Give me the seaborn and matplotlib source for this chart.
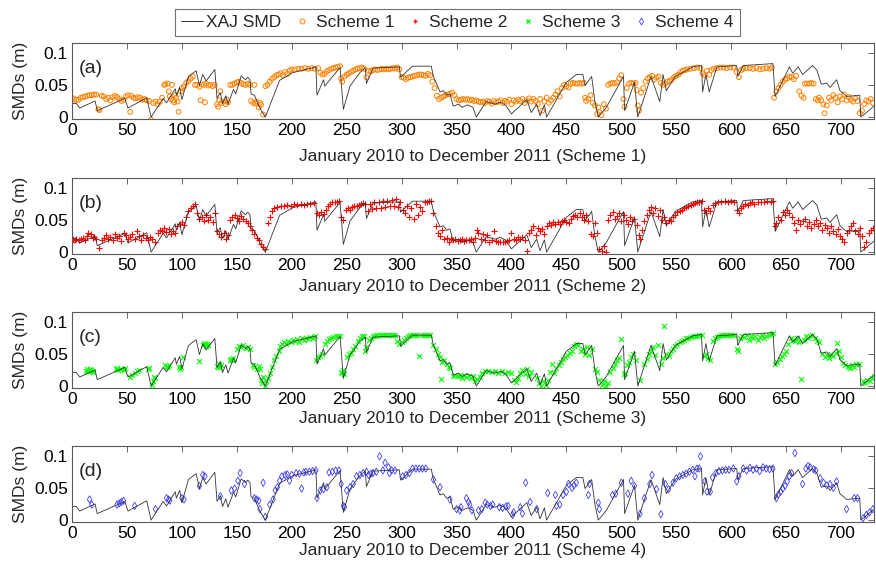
import pandas as pd
import seaborn as sns
import matplotlib.pyplot as plt
from matplotlib.lines import Line2D

# XAJ SMD simulation (breakpoints of the daily series, day -> SMD in m)
xaj_day = [0, 4, 7, 21, 23, 48, 51, 68, 72, 83, 86, 94, 95, 98, 100, 106, 113, 116, 119, 122,
           130, 132, 135, 137, 140, 142, 147, 149, 154, 158, 160, 162, 163, 166, 171, 176, 183,
           189, 201, 213, 222, 223, 229, 230, 244, 247, 253, 262, 267, 268, 274, 298, 299, 310,
           327, 329, 335, 338, 341, 344, 347, 352, 355, 360, 365, 368, 377, 385, 390, 395, 400,
           414, 418, 423, 426, 430, 432, 450, 459, 465, 467, 473, 476, 479, 486, 502, 503, 512,
           515, 527, 535, 538, 541, 549, 565, 573, 574, 577, 580, 587, 605, 606, 611, 638, 640,
           653, 656, 661, 665, 674, 678, 682, 687, 690, 696, 699, 705, 717, 718, 730]
xaj_smd = [0.021, 0.021, 0.014, 0.025, 0.010, 0.029, 0.014, 0.030, 0.000, 0.029, 0.022, 0.044,
           0.034, 0.046, 0.027, 0.063, 0.072, 0.049, 0.066, 0.056, 0.074, 0.029, 0.038, 0.021,
           0.033, 0.020, 0.043, 0.036, 0.064, 0.058, 0.062, 0.058, 0.036, 0.034, 0.014, 0.000,
           0.031, 0.057, 0.069, 0.074, 0.078, 0.034, 0.058, 0.048, 0.077, 0.012, 0.048, 0.069,
           0.076, 0.052, 0.076, 0.078, 0.062, 0.079, 0.079, 0.063, 0.039, 0.041, 0.034, 0.036,
           0.017, 0.020, 0.015, 0.019, 0.015, 0.000, 0.024, 0.020, 0.023, 0.018, 0.005, 0.027,
           0.007, 0.020, 0.002, 0.019, 0.000, 0.054, 0.066, 0.066, 0.049, 0.063, 0.024, 0.000,
           0.014, 0.063, 0.010, 0.054, 0.000, 0.063, 0.024, 0.066, 0.041, 0.063, 0.078, 0.080,
           0.039, 0.066, 0.039, 0.078, 0.080, 0.063, 0.080, 0.083, 0.032, 0.078, 0.068, 0.078,
           0.066, 0.080, 0.073, 0.051, 0.053, 0.046, 0.058, 0.041, 0.032, 0.034, 0.000, 0.017]

# Scheme 1 (orange circles)
s1_day = [0, 2, 4, 6, 8, 10, 12, 14, 16, 18, 20, 22, 24, 25, 27, 29, 31, 33, 35, 37, 39, 41, 43,
          45, 47, 49, 51, 53, 54, 56, 58, 60, 62, 64, 66, 68, 70, 72, 74, 76, 78, 80, 82, 84, 85,
          87, 88, 89, 90, 91, 92, 93, 94, 95, 96, 97, 99, 100, 102, 104, 106, 108, 110, 112, 114,
          116, 117, 118, 120, 121, 122, 124, 126, 128, 130, 132, 133, 134, 135, 136, 138, 140,
          141, 142, 144, 146, 148, 150, 152, 154, 156, 158, 160, 162, 163, 165, 166, 167, 168,
          170, 171, 172, 174, 176, 178, 180, 182, 184, 186, 188, 190, 192, 194, 196, 198, 200,
          203, 206, 209, 212, 215, 218, 221, 224, 226, 228, 230, 232, 234, 236, 238, 240, 242,
          244, 245, 246, 248, 250, 252, 254, 256, 258, 260, 262, 264, 266, 268, 270, 272, 274,
          276, 278, 280, 282, 284, 286, 288, 290, 292, 294, 296, 298, 300, 302, 304, 306, 308,
          310, 312, 314, 316, 318, 320, 322, 324, 326, 328, 330, 332, 334, 336, 338, 340, 342,
          344, 346, 348, 350, 352, 354, 356, 358, 360, 362, 364, 366, 368, 370, 372, 374, 376,
          378, 380, 382, 384, 386, 388, 390, 392, 394, 396, 398, 400, 402, 404, 406, 408, 410,
          412, 414, 416, 418, 420, 422, 424, 426, 428, 430, 432, 434, 436, 438, 440, 442, 444,
          446, 448, 450, 452, 454, 456, 458, 460, 462, 464, 466, 467, 468, 470, 472, 474, 476,
          478, 479, 480, 482, 484, 486, 488, 490, 492, 494, 496, 498, 500, 502, 503, 505, 507,
          509, 511, 513, 514, 515, 516, 518, 520, 522, 524, 526, 528, 530, 532, 534, 536, 538,
          540, 542, 544, 546, 548, 550, 552, 554, 556, 558, 560, 563, 566, 569, 572, 574, 576,
          578, 580, 582, 584, 587, 590, 593, 596, 599, 602, 605, 607, 609, 611, 614, 617, 620,
          623, 626, 629, 632, 635, 637, 639, 641, 643, 645, 647, 649, 651, 653, 655, 657, 659,
          662, 664, 666, 667, 669, 671, 673, 675, 677, 679, 680, 682, 684, 685, 687, 689, 691,
          693, 695, 697, 699, 701, 703, 705, 707, 709, 711, 713, 715, 717, 719, 721, 723, 725,
          727, 729]
s1_smd = [0.030, 0.028, 0.026, 0.027, 0.030, 0.031, 0.032, 0.033, 0.034, 0.034, 0.035, 0.035,
          0.012, 0.011, 0.033, 0.032, 0.028, 0.030, 0.026, 0.031, 0.033, 0.031, 0.028, 0.025,
          0.027, 0.032, 0.034, 0.008, 0.033, 0.030, 0.029, 0.031, 0.030, 0.027, 0.028, 0.026,
          0.025, -0.004, 0.022, 0.024, 0.020, 0.024, 0.030, 0.050, 0.051, 0.052, 0.040, 0.032,
          0.028, 0.050, 0.026, 0.023, 0.034, 0.030, 0.024, 0.008, 0.040, 0.045, 0.048, 0.053,
          0.056, 0.060, 0.063, 0.050, 0.050, 0.047, 0.026, 0.051, 0.050, 0.023, 0.052, 0.049,
          0.050, 0.048, 0.050, 0.020, 0.016, 0.026, 0.040, 0.022, 0.024, 0.020, 0.027, 0.023,
          0.050, 0.050, 0.052, 0.054, 0.055, 0.053, 0.051, 0.050, 0.052, 0.050, 0.025, 0.022,
          0.050, 0.021, 0.024, 0.015, 0.022, 0.019, 0.004, 0.048, 0.050, 0.055, 0.059, 0.062,
          0.065, 0.066, 0.068, 0.065, 0.070, 0.067, 0.072, 0.074, 0.074, 0.075, 0.075, 0.076,
          0.075, 0.076, 0.075, 0.076, 0.069, 0.066, 0.067, 0.071, 0.073, 0.075, 0.076, 0.077,
          0.078, 0.079, 0.060, 0.055, 0.063, 0.066, 0.068, 0.070, 0.072, 0.074, 0.075, 0.076,
          0.077, 0.075, 0.062, 0.072, 0.071, 0.073, 0.074, 0.073, 0.074, 0.075, 0.074, 0.075,
          0.074, 0.075, 0.076, 0.075, 0.077, 0.074, 0.062, 0.061, 0.059, 0.061, 0.062, 0.063,
          0.064, 0.065, 0.066, 0.066, 0.065, 0.064, 0.067, 0.065, 0.055, 0.045, 0.033, 0.028,
          0.030, 0.032, 0.034, 0.035, 0.036, 0.038, 0.034, 0.028, 0.026, 0.027, 0.028, 0.027,
          0.028, 0.026, 0.027, 0.025, 0.026, 0.024, 0.023, 0.024, 0.022, 0.025, 0.024, 0.021,
          0.025, 0.023, 0.024, 0.026, 0.022, 0.025, 0.024, 0.027, 0.020, 0.026, 0.024, 0.027,
          0.025, 0.028, 0.022, 0.026, 0.029, 0.024, 0.028, 0.025, 0.020, 0.028, 0.010, 0.024,
          0.030, 0.022, 0.026, 0.030, 0.035, 0.040, 0.032, 0.045, 0.050, 0.048, 0.046, 0.052,
          0.053, 0.052, 0.052, 0.053, 0.052, 0.053, 0.030, 0.025, 0.028, 0.034, 0.022, 0.018,
          0.005, 0.015, 0.008, 0.003, 0.020, 0.013, 0.050, 0.052, 0.053, 0.052, 0.054, 0.060,
          0.065, 0.028, 0.016, 0.045, 0.052, 0.053, 0.052, 0.053, 0.042, 0.018, 0.010, 0.038,
          0.045, 0.055, 0.060, 0.062, 0.064, 0.058, 0.061, 0.063, 0.053, 0.050, 0.052, 0.055,
          0.056, 0.058, 0.062, 0.064, 0.066, 0.070, 0.072, 0.073, 0.074, 0.075, 0.076, 0.077,
          0.076, 0.068, 0.065, 0.072, 0.066, 0.073, 0.075, 0.076, 0.077, 0.077, 0.076, 0.077,
          0.077, 0.070, 0.062, 0.073, 0.075, 0.076, 0.076, 0.075, 0.076, 0.074, 0.075, 0.076,
          0.075, 0.077, 0.030, 0.040, 0.045, 0.050, 0.055, 0.058, 0.060, 0.063, 0.062, 0.059,
          0.064, 0.040, 0.033, 0.030, 0.052, 0.052, 0.052, 0.053, 0.052, 0.028, 0.026, 0.030,
          0.026, 0.020, 0.006, 0.018, 0.030, 0.026, 0.034, 0.030, 0.023, 0.032, 0.028, 0.035,
          0.026, 0.031, 0.027, 0.024, 0.029, 0.025, 0.006, 0.010, 0.020, 0.026, 0.024, 0.028,
          0.022]

# Scheme 2 (red plus)
s2_day = [0, 1, 3, 4, 6, 8, 10, 12, 14, 15, 17, 19, 20, 22, 25, 27, 29, 31, 33, 35, 37, 39, 41,
          43, 45, 47, 49, 51, 53, 55, 57, 59, 61, 63, 65, 67, 69, 71, 73, 76, 78, 80, 82, 84, 86,
          88, 90, 92, 94, 96, 98, 100, 102, 104, 106, 108, 110, 112, 114, 116, 118, 120, 122,
          124, 126, 128, 130, 132, 134, 136, 138, 140, 142, 144, 146, 148, 150, 152, 154, 156,
          158, 160, 162, 164, 166, 168, 170, 172, 174, 176, 178, 180, 182, 184, 187, 190, 193,
          196, 199, 202, 205, 208, 211, 214, 217, 220, 223, 225, 227, 229, 231, 233, 235, 237,
          239, 241, 243, 245, 247, 249, 251, 253, 255, 257, 259, 261, 263, 265, 267, 269, 271,
          273, 275, 277, 279, 281, 283, 285, 287, 289, 291, 293, 295, 297, 299, 301, 303, 305,
          307, 309, 311, 313, 315, 317, 319, 321, 323, 325, 327, 329, 331, 333, 335, 337, 339,
          341, 343, 345, 347, 349, 351, 353, 355, 357, 359, 361, 363, 365, 367, 369, 370, 372,
          374, 376, 378, 380, 382, 384, 386, 388, 390, 392, 394, 396, 398, 400, 402, 404, 406,
          408, 410, 412, 414, 416, 418, 420, 422, 424, 426, 428, 430, 432, 434, 436, 438, 440,
          442, 444, 446, 448, 450, 452, 454, 456, 458, 460, 462, 464, 466, 468, 470, 472, 474,
          476, 478, 480, 482, 484, 486, 488, 490, 492, 494, 496, 498, 500, 502, 504, 506, 508,
          510, 512, 514, 516, 517, 519, 521, 523, 525, 527, 529, 531, 533, 535, 537, 539, 541,
          543, 545, 547, 549, 551, 553, 555, 557, 559, 561, 563, 565, 567, 569, 571, 573, 575,
          577, 579, 581, 583, 585, 588, 591, 594, 597, 600, 603, 605, 607, 609, 611, 613, 615,
          617, 619, 621, 624, 627, 630, 633, 636, 638, 640, 641, 643, 645, 647, 649, 651, 653,
          655, 657, 659, 661, 663, 665, 667, 669, 671, 673, 675, 677, 679, 681, 683, 685, 687,
          689, 691, 693, 695, 697, 699, 701, 703, 705, 707, 709, 711, 713, 715, 717, 719, 721,
          723, 725, 727, 729]
s2_smd = [0.016, 0.020, 0.018, 0.021, 0.019, 0.020, 0.022, 0.019, 0.025, 0.030, 0.028, 0.022,
          0.024, 0.020, 0.007, 0.018, 0.022, 0.026, 0.020, 0.024, 0.018, 0.028, 0.022, 0.025,
          0.017, 0.030, 0.026, 0.020, 0.024, 0.028, 0.021, 0.032, 0.025, 0.019, 0.027, 0.022,
          0.018, 0.024, 0.020, 0.016, 0.030, 0.035, 0.033, 0.038, 0.031, 0.036, 0.028, 0.032,
          0.030, 0.040, 0.043, 0.046, 0.042, 0.055, 0.063, 0.068, 0.072, 0.075, 0.060, 0.052,
          0.055, 0.048, 0.058, 0.050, 0.054, 0.046, 0.060, 0.032, 0.028, 0.024, 0.030, 0.020,
          0.026, 0.050, 0.055, 0.058, 0.053, 0.049, 0.056, 0.052, 0.048, 0.045, 0.040, 0.035,
          0.028, 0.022, 0.018, 0.012, 0.008, 0.004, 0.045, 0.055, 0.064, 0.068, 0.070, 0.072,
          0.071, 0.073, 0.072, 0.074, 0.073, 0.074, 0.073, 0.075, 0.074, 0.076, 0.060, 0.058,
          0.062, 0.059, 0.065, 0.072, 0.075, 0.077, 0.078, 0.078, 0.079, 0.055, 0.050, 0.065,
          0.068, 0.066, 0.070, 0.071, 0.072, 0.073, 0.075, 0.076, 0.074, 0.064, 0.075, 0.067,
          0.077, 0.068, 0.078, 0.069, 0.079, 0.070, 0.080, 0.071, 0.081, 0.072, 0.082, 0.070,
          0.078, 0.066, 0.060, 0.072, 0.055, 0.068, 0.052, 0.075, 0.058, 0.070, 0.064, 0.078,
          0.077, 0.079, 0.080, 0.060, 0.040, 0.030, 0.025, 0.035, 0.020, 0.022, 0.015, 0.020,
          0.018, 0.021, 0.017, 0.019, 0.020, 0.017, 0.019, 0.018, 0.021, 0.016, 0.022, 0.034,
          0.030, 0.020, 0.028, 0.019, 0.026, 0.015, 0.018, 0.032, 0.017, 0.016, 0.015, 0.016,
          0.015, 0.017, 0.018, 0.030, 0.021, 0.019, 0.023, 0.020, 0.024, 0.019, 0.002, 0.030,
          0.035, 0.040, 0.026, 0.038, 0.032, 0.036, 0.028, 0.040, 0.045, 0.042, 0.047, 0.044,
          0.046, 0.043, 0.048, 0.050, 0.047, 0.045, 0.052, 0.056, 0.058, 0.055, 0.060, 0.054,
          0.050, 0.058, 0.048, 0.028, 0.025, 0.045, 0.030, 0.005, 0.002, 0.010, 0.000, 0.050,
          0.057, 0.062, 0.052, 0.056, 0.060, 0.048, 0.058, 0.050, 0.044, 0.055, 0.048, 0.052,
          0.042, 0.027, 0.020, 0.035, 0.048, 0.058, 0.066, 0.070, 0.060, 0.068, 0.056, 0.066,
          0.050, 0.055, 0.045, 0.050, 0.048, 0.055, 0.058, 0.062, 0.064, 0.066, 0.068, 0.070,
          0.072, 0.073, 0.075, 0.076, 0.077, 0.078, 0.079, 0.065, 0.060, 0.068, 0.063, 0.073,
          0.076, 0.077, 0.078, 0.079, 0.078, 0.079, 0.078, 0.065, 0.060, 0.068, 0.072, 0.074,
          0.073, 0.076, 0.077, 0.075, 0.077, 0.078, 0.077, 0.079, 0.078, 0.080, 0.040, 0.045,
          0.055, 0.050, 0.062, 0.058, 0.065, 0.060, 0.055, 0.045, 0.035, 0.050, 0.043, 0.048,
          0.052, 0.040, 0.046, 0.038, 0.044, 0.050, 0.041, 0.045, 0.035, 0.042, 0.037, 0.030,
          0.040, 0.033, 0.028, 0.036, 0.025, 0.020, 0.015, 0.030, 0.034, 0.040, 0.045, 0.032,
          0.028, 0.038, 0.025, 0.008, 0.015, 0.030, 0.035, 0.038]

# Scheme 3 (green x)
s3_day = [13, 14, 15, 16, 17, 18, 19, 40, 41, 42, 44, 45, 47, 48, 53, 55, 57, 59, 61, 69, 70, 73,
          74, 75, 76, 85, 86, 87, 88, 97, 98, 99, 101, 116, 119, 120, 121, 122, 123, 124, 132,
          133, 134, 135, 136, 144, 145, 146, 147, 150, 152, 154, 156, 158, 160, 162, 165, 166,
          168, 170, 171, 172, 173, 174, 176, 177, 178, 180, 182, 184, 186, 188, 189, 191, 193,
          195, 197, 199, 201, 203, 205, 207, 209, 211, 213, 215, 217, 219, 221, 222, 224, 226,
          228, 230, 232, 234, 236, 238, 240, 242, 244, 245, 246, 247, 248, 250, 252, 254, 256,
          258, 260, 262, 264, 266, 267, 268, 270, 272, 274, 276, 278, 280, 282, 284, 286, 288,
          290, 292, 294, 296, 298, 300, 302, 304, 306, 308, 310, 312, 314, 316, 318, 320, 322,
          324, 326, 329, 331, 333, 335, 336, 337, 339, 341, 343, 344, 347, 349, 351, 353, 355,
          357, 359, 361, 363, 365, 367, 369, 371, 373, 376, 379, 382, 385, 388, 391, 394, 397,
          400, 402, 404, 406, 408, 410, 412, 414, 416, 418, 423, 425, 427, 429, 431, 433, 435,
          437, 439, 441, 443, 445, 447, 449, 451, 453, 455, 457, 459, 461, 463, 465, 467, 469,
          471, 473, 476, 478, 480, 482, 484, 486, 488, 490, 492, 494, 496, 498, 500, 502, 503,
          505, 507, 509, 511, 513, 517, 521, 523, 525, 527, 529, 531, 533, 536, 538, 539, 541,
          543, 545, 547, 549, 551, 553, 555, 557, 559, 561, 563, 565, 567, 569, 571, 573, 575,
          577, 579, 581, 583, 585, 587, 589, 591, 593, 595, 597, 599, 601, 603, 605, 606, 608,
          610, 612, 614, 616, 618, 620, 622, 624, 626, 628, 630, 632, 634, 636, 638, 640, 642,
          644, 646, 648, 650, 652, 654, 656, 658, 660, 662, 664, 666, 668, 670, 672, 674, 676,
          678, 680, 683, 685, 687, 689, 691, 693, 695, 696, 698, 700, 702, 704, 706, 708, 710,
          712, 714, 716, 720, 722, 724, 726, 728, 730]
s3_smd = [0.024, 0.026, 0.023, 0.027, 0.025, 0.024, 0.022, 0.026, 0.028, 0.025, 0.027, 0.026,
          0.025, 0.028, 0.014, 0.017, 0.021, 0.024, 0.025, 0.026, 0.028, 0.002, 0.008, 0.014,
          0.012, 0.032, 0.030, 0.029, 0.033, 0.029, 0.027, 0.030, 0.045, 0.039, 0.063, 0.067,
          0.065, 0.062, 0.066, 0.063, 0.031, 0.029, 0.034, 0.030, 0.032, 0.040, 0.042, 0.040,
          0.044, 0.058, 0.062, 0.060, 0.063, 0.059, 0.061, 0.057, 0.033, 0.030, 0.027, 0.031,
          0.026, 0.010, 0.004, 0.014, 0.000, 0.008, 0.012, 0.020, 0.030, 0.040, 0.046, 0.055,
          0.062, 0.066, 0.068, 0.065, 0.070, 0.068, 0.072, 0.070, 0.073, 0.068, 0.074, 0.071,
          0.075, 0.073, 0.076, 0.074, 0.077, 0.040, 0.045, 0.047, 0.050, 0.065, 0.070, 0.073,
          0.075, 0.076, 0.077, 0.078, 0.078, 0.022, 0.020, 0.025, 0.018, 0.045, 0.050, 0.052,
          0.057, 0.062, 0.070, 0.074, 0.077, 0.078, 0.055, 0.060, 0.072, 0.075, 0.077, 0.078,
          0.079, 0.080, 0.079, 0.080, 0.080, 0.079, 0.080, 0.079, 0.080, 0.070, 0.066, 0.068,
          0.072, 0.075, 0.078, 0.079, 0.080, 0.079, 0.080, 0.047, 0.080, 0.079, 0.080, 0.079,
          0.080, 0.063, 0.058, 0.050, 0.045, 0.011, 0.038, 0.040, 0.035, 0.030, 0.028, 0.016,
          0.017, 0.015, 0.016, 0.013, 0.017, 0.014, 0.016, 0.012, 0.015, 0.008, 0.011, 0.014,
          0.020, 0.024, 0.023, 0.022, 0.024, 0.020, 0.023, 0.021, 0.022, 0.020, 0.010, 0.007,
          0.012, 0.020, 0.025, 0.018, 0.027, 0.015, 0.022, 0.012, 0.005, 0.000, 0.008, 0.002,
          0.010, 0.022, 0.035, 0.020, 0.028, 0.032, 0.038, 0.042, 0.045, 0.048, 0.052, 0.055,
          0.062, 0.065, 0.063, 0.055, 0.058, 0.050, 0.060, 0.048, 0.057, 0.027, 0.022, 0.010,
          0.002, 0.008, 0.000, 0.004, 0.022, 0.028, 0.035, 0.040, 0.043, 0.073, 0.018, 0.020,
          0.032, 0.038, 0.045, 0.050, 0.040, 0.010, 0.035, 0.042, 0.050, 0.055, 0.060, 0.048,
          0.063, 0.035, 0.044, 0.094, 0.050, 0.047, 0.055, 0.058, 0.062, 0.066, 0.068, 0.070,
          0.072, 0.074, 0.075, 0.076, 0.077, 0.078, 0.078, 0.079, 0.079, 0.046, 0.050, 0.043,
          0.040, 0.070, 0.074, 0.076, 0.078, 0.079, 0.079, 0.080, 0.080, 0.079, 0.080, 0.079,
          0.058, 0.055, 0.075, 0.078, 0.076, 0.079, 0.072, 0.077, 0.074, 0.078, 0.071, 0.076,
          0.079, 0.075, 0.077, 0.080, 0.081, 0.083, 0.034, 0.038, 0.042, 0.046, 0.050, 0.054,
          0.066, 0.075, 0.072, 0.070, 0.074, 0.068, 0.011, 0.072, 0.078, 0.075, 0.078, 0.080,
          0.075, 0.070, 0.068, 0.050, 0.045, 0.048, 0.044, 0.050, 0.046, 0.052, 0.067, 0.055,
          0.045, 0.036, 0.032, 0.030, 0.028, 0.032, 0.030, 0.034, 0.035, 0.008, 0.005, 0.010,
          0.008, 0.012, 0.015]

# Scheme 4 (blue diamonds)
s4_day = [16, 18, 41, 43, 45, 47, 57, 76, 86, 88, 89, 100, 102, 116, 119, 121, 135, 145, 148, 151,
          153, 157, 166, 168, 170, 171, 174, 176, 180, 183, 185, 187, 189, 191, 194, 196, 198,
          200, 204, 207, 209, 211, 213, 216, 219, 222, 223, 226, 229, 232, 234, 237, 240, 243,
          245, 247, 248, 250, 253, 256, 259, 262, 265, 268, 270, 272, 274, 277, 280, 283, 285,
          288, 289, 291, 294, 301, 304, 307, 310, 313, 316, 319, 322, 329, 335, 344, 350, 353,
          354, 359, 361, 362, 364, 370, 373, 376, 378, 381, 383, 389, 392, 395, 397, 401, 402,
          408, 410, 413, 417, 423, 433, 440, 441, 444, 447, 450, 452, 455, 457, 459, 470, 471,
          479, 480, 492, 495, 500, 506, 509, 512, 517, 521, 526, 528, 532, 536, 540, 543, 547,
          550, 553, 556, 559, 562, 565, 567, 569, 571, 572, 576, 578, 581, 583, 586, 589, 592,
          595, 598, 602, 605, 607, 611, 614, 617, 620, 623, 626, 629, 632, 635, 638, 641, 643,
          645, 647, 649, 651, 653, 655, 658, 665, 668, 670, 672, 675, 677, 681, 684, 687, 690,
          693, 696, 705, 712, 715, 720, 723, 726, 729]
s4_smd = [0.032, 0.024, 0.024, 0.026, 0.028, 0.030, 0.022, 0.017, 0.034, 0.032, 0.030, 0.034,
          0.032, 0.053, 0.070, 0.068, 0.037, 0.046, 0.049, 0.061, 0.073, 0.056, 0.034, 0.032,
          0.030, 0.017, 0.058, 0.005, 0.024, 0.032, 0.046, 0.051, 0.061, 0.068, 0.070, 0.071,
          0.061, 0.070, 0.073, 0.072, 0.049, 0.074, 0.075, 0.075, 0.076, 0.077, 0.034, 0.046,
          0.048, 0.051, 0.074, 0.075, 0.077, 0.077, 0.056, 0.022, 0.020, 0.046, 0.051, 0.056,
          0.068, 0.070, 0.073, 0.075, 0.070, 0.072, 0.073, 0.075, 0.099, 0.077, 0.089, 0.082,
          0.073, 0.077, 0.077, 0.068, 0.070, 0.073, 0.080, 0.080, 0.080, 0.080, 0.080, 0.063,
          0.051, 0.032, 0.017, 0.015, 0.020, 0.034, 0.028, 0.024, 0.015, 0.015, 0.017, 0.027,
          0.024, 0.022, 0.024, 0.020, 0.019, 0.021, 0.022, 0.008, 0.012, 0.020, 0.010, 0.058,
          0.028, 0.017, 0.042, 0.039, 0.022, 0.024, 0.039, 0.044, 0.056, 0.050, 0.054, 0.058,
          0.039, 0.056, 0.027, 0.017, 0.039, 0.041, 0.058, 0.041, 0.061, 0.053, 0.010, 0.034,
          0.056, 0.070, 0.048, 0.009, 0.056, 0.048, 0.058, 0.065, 0.068, 0.070, 0.072, 0.075,
          0.078, 0.068, 0.080, 0.080, 0.099, 0.060, 0.044, 0.044, 0.066, 0.073, 0.076, 0.077,
          0.078, 0.078, 0.080, 0.060, 0.068, 0.080, 0.077, 0.081, 0.078, 0.080, 0.076, 0.082,
          0.080, 0.079, 0.080, 0.034, 0.040, 0.044, 0.049, 0.053, 0.060, 0.068, 0.073, 0.104,
          0.056, 0.080, 0.084, 0.082, 0.079, 0.077, 0.065, 0.058, 0.054, 0.056, 0.050, 0.060,
          0.017, 0.034, 0.034, 0.003, 0.008, 0.012, 0.017]

panel_tags = ['(a)', '(b)', '(c)', '(d)']
scheme_names = ['Scheme 1', 'Scheme 2', 'Scheme 3', 'Scheme 4']
x_ticks = list(range(0, 701, 50))
y_ticks = [0, 0.05, 0.1]
y_tick_labels = ['0', '0.05', '0.1']

sns.set_style('white')
plt.rcParams['font.family'] = ['Liberation Sans', 'DejaVu Sans']

xaj = pd.DataFrame({'day': xaj_day, 'smd': xaj_smd})
schemes = [pd.DataFrame({'day': d, 'smd': v})
           for d, v in [(s1_day, s1_smd), (s2_day, s2_smd), (s3_day, s3_smd), (s4_day, s4_smd)]]

# marker style for each scheme
styles = [
    dict(marker='o', s=12, facecolor='none', edgecolor='#ff8000', linewidth=0.7),
    dict(marker='+', s=14, color='#ff0000', linewidth=0.8),
    dict(marker='x', s=13, color='#00ff00', linewidth=0.8),
    dict(marker='d', s=14, facecolor='none', edgecolor='#3030ff', linewidth=0.55),
]

fig = plt.figure(figsize=(8.76, 5.64), dpi=100)
tops = [43, 178, 312, 446]
xlabel_pads = [8, 4, 3, 1]
for i in range(4):
    bottom = 1 - (tops[i] + 76) / 564
    ax = fig.add_axes([72 / 876, bottom, 802 / 876, 76 / 564])
    sns.lineplot(data=xaj, x='day', y='smd', ax=ax, color='0.2', linewidth=0.6,
                 estimator=None, sort=False)
    sns.scatterplot(data=schemes[i], x='day', y='smd', ax=ax, **styles[i])
    ax.set_xlim(0, 730)
    ax.set_ylim(-0.003, 0.115)
    ax.set_xticks(x_ticks)
    ax.set_yticks(y_ticks)
    ax.set_yticklabels(y_tick_labels)
    ax.tick_params(direction='in', top=True, right=True, length=4, width=0.6,
                   labelsize=12.5, colors='0.3', labelcolor='black', pad=3)
    for sp in ax.spines.values():
        sp.set_color('0.35')
        sp.set_linewidth(0.8)
    ax.set_xlabel('January 2010 to December 2011 (' + scheme_names[i] + ')', fontsize=12.5,
                  labelpad=xlabel_pads[i])
    ax.set_ylabel('SMDs (m)', fontsize=12.5, labelpad=4)
    ax.text(0.008, 0.66, panel_tags[i], transform=ax.transAxes, fontsize=14,
            ha='left', va='center')

handles = [Line2D([], [], color='0.2', linewidth=0.7)]
handles.append(Line2D([], [], linestyle='none', marker='o', markersize=3.5, markerfacecolor='none',
                      markeredgecolor='#ff8000', markeredgewidth=0.7))
handles.append(Line2D([], [], linestyle='none', marker='+', markersize=3.5, color='#ff0000'))
handles.append(Line2D([], [], linestyle='none', marker='x', markersize=3, color='#00ff00'))
handles.append(Line2D([], [], linestyle='none', marker='d', markersize=3.5, markerfacecolor='none',
                      markeredgecolor='#3030ff', markeredgewidth=0.55))
leg = fig.legend(handles, ['XAJ SMD'] + scheme_names, loc='upper center',
                 bbox_to_anchor=(0.522, 0.99), ncol=5, frameon=True, fancybox=False,
                 edgecolor='0.3', fontsize=12.5, handlelength=1.25, handletextpad=0.2,
                 columnspacing=0.55, borderpad=0.35, borderaxespad=0.2)
leg.get_frame().set_linewidth(0.8)

fig.savefig('out.png', dpi=100)
